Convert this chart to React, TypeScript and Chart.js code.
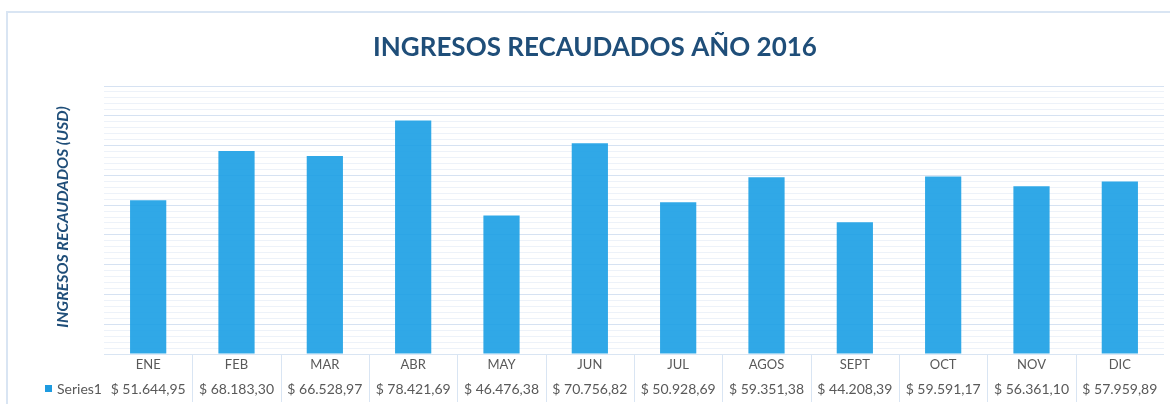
import React, { useEffect, useRef } from "react";
import { Chart, registerables } from "chart.js";

Chart.register(...registerables);

const categories = ["ENE", "FEB", "MAR", "ABR", "MAY", "JUN", "JUL", "AGOS", "SEPT", "OCT", "NOV", "DIC"];
const series1 = [51644.95, 68183.3, 66528.97, 78421.69, 46476.38, 70756.82, 50928.69, 59351.38, 44208.39, 59591.17, 56361.1, 57959.89];
const valueLabels = ["$ 51.644,95", "$ 68.183,30", "$ 66.528,97", "$ 78.421,69", "$ 46.476,38", "$ 70.756,82", "$ 50.928,69", "$ 59.351,38", "$ 44.208,39", "$ 59.591,17", "$ 56.361,10", "$ 57.959,89"];
const seriesName = "Series1";
const chartTitle = "INGRESOS RECAUDADOS AÑO 2016";
const yTitle = "INGRESOS RECAUDADOS (USD)";
const yMin = 0;
const yMax = 90000;
const yMinorStep = 2000;
const yMajorStep = 10000;

const BAR = "rgba(26,158,228,0.9)";
const DARK = "#1f4e79";
const GRAY = "#595959";
const FONT = "Lato, 'Open Sans', sans-serif";

const decorPlugin = {
  id: "decor",
  beforeDraw(chart: any) {
    const { ctx, width, height } = chart;
    ctx.save();
    ctx.fillStyle = "#ffffff";
    ctx.fillRect(0, 0, width, height);
    ctx.strokeStyle = "#d9e5f3";
    ctx.lineWidth = 2;
    ctx.strokeRect(7, 12, width + 20, height + 20);
    ctx.restore();
  },
  afterDraw(chart: any) {
    const { ctx, chartArea } = chart;
    const xs = chart.scales.x;
    ctx.save();
    // title
    ctx.fillStyle = DARK;
    ctx.font = `bold 26px ${FONT}`;
    ctx.textAlign = "center";
    ctx.textBaseline = "alphabetic";
    ctx.fillText(chartTitle, 595, 56);
    // y title
    ctx.save();
    ctx.translate(63, (chartArea.top + chartArea.bottom) / 2 - 3);
    ctx.rotate(-Math.PI / 2);
    ctx.font = `italic bold 16px ${FONT}`;
    ctx.textBaseline = "middle";
    ctx.fillText(yTitle, 0, 0);
    ctx.restore();
    // data table
    const bottom = chartArea.bottom;
    ctx.strokeStyle = "#d9e5f3";
    ctx.lineWidth = 1;
    ctx.beginPath();
    ctx.moveTo(chartArea.left, bottom + 0.5);
    ctx.lineTo(chartArea.right, bottom + 0.5);
    ctx.stroke();
    const n = categories.length;
    for (let i = 1; i < n; i++) {
      const xp = (xs.getPixelForValue(i - 1) + xs.getPixelForValue(i)) / 2;
      ctx.beginPath();
      ctx.moveTo(Math.round(xp) + 0.5, bottom);
      ctx.lineTo(Math.round(xp) + 0.5, bottom + 48);
      ctx.stroke();
    }
    ctx.fillStyle = GRAY;
    ctx.textAlign = "center";
    ctx.textBaseline = "middle";
    categories.forEach((c, i) => {
      const xp = xs.getPixelForValue(i);
      ctx.font = `13px ${FONT}`;
      ctx.fillText(c, xp, bottom + 11);
      ctx.font = `14px ${FONT}`;
      ctx.fillText(valueLabels[i], xp, bottom + 35);
    });
    // legend key
    ctx.fillStyle = "#1e9be0";
    ctx.fillRect(45, bottom + 31, 7, 7);
    ctx.fillStyle = GRAY;
    ctx.textAlign = "left";
    ctx.font = `14px ${FONT}`;
    ctx.fillText(seriesName, 57, bottom + 35);
    ctx.restore();
  },
};

export default function App() {
  const ref = useRef<HTMLCanvasElement>(null);
  useEffect(() => {
    document.body.style.margin = "0";
    const chart = new Chart(ref.current!, {
      type: "bar",
      data: {
        labels: categories,
        datasets: [
          {
            label: seriesName,
            data: series1,
            backgroundColor: BAR,
            borderWidth: 0,
            barPercentage: 0.41,
            categoryPercentage: 1,
          },
        ],
      },
      options: {
        animation: false,
        responsive: false,
        maintainAspectRatio: false,
        layout: { padding: { left: 104, right: 6, top: 86, bottom: 50 } },
        plugins: {
          legend: { display: false },
          title: { display: false },
          tooltip: { enabled: false },
        },
        scales: {
          x: {
            type: "category",
            ticks: { display: false },
            grid: { display: false },
            border: { display: false },
            afterFit: (s: any) => {
              s.height = 0;
            },
          },
          y: {
            min: yMin,
            max: yMax,
            ticks: { display: false, stepSize: yMinorStep },
            border: { display: false },
            grid: {
              drawTicks: false,
              color: (c: any) => (c.tick && c.tick.value % yMajorStep === 0 ? "#d6e2f2" : "#edf2f9"),
              lineWidth: 1,
            },
            afterFit: (s: any) => {
              s.width = 0;
            },
          },
        },
      },
      plugins: [decorPlugin],
    });
    return () => chart.destroy();
  }, []);
  return (
    <div style={{ position: "absolute", left: 0, top: 0, width: 1170, height: 404 }}>
      <canvas ref={ref} width={1170} height={404} style={{ display: "block" }} />
    </div>
  );
}
